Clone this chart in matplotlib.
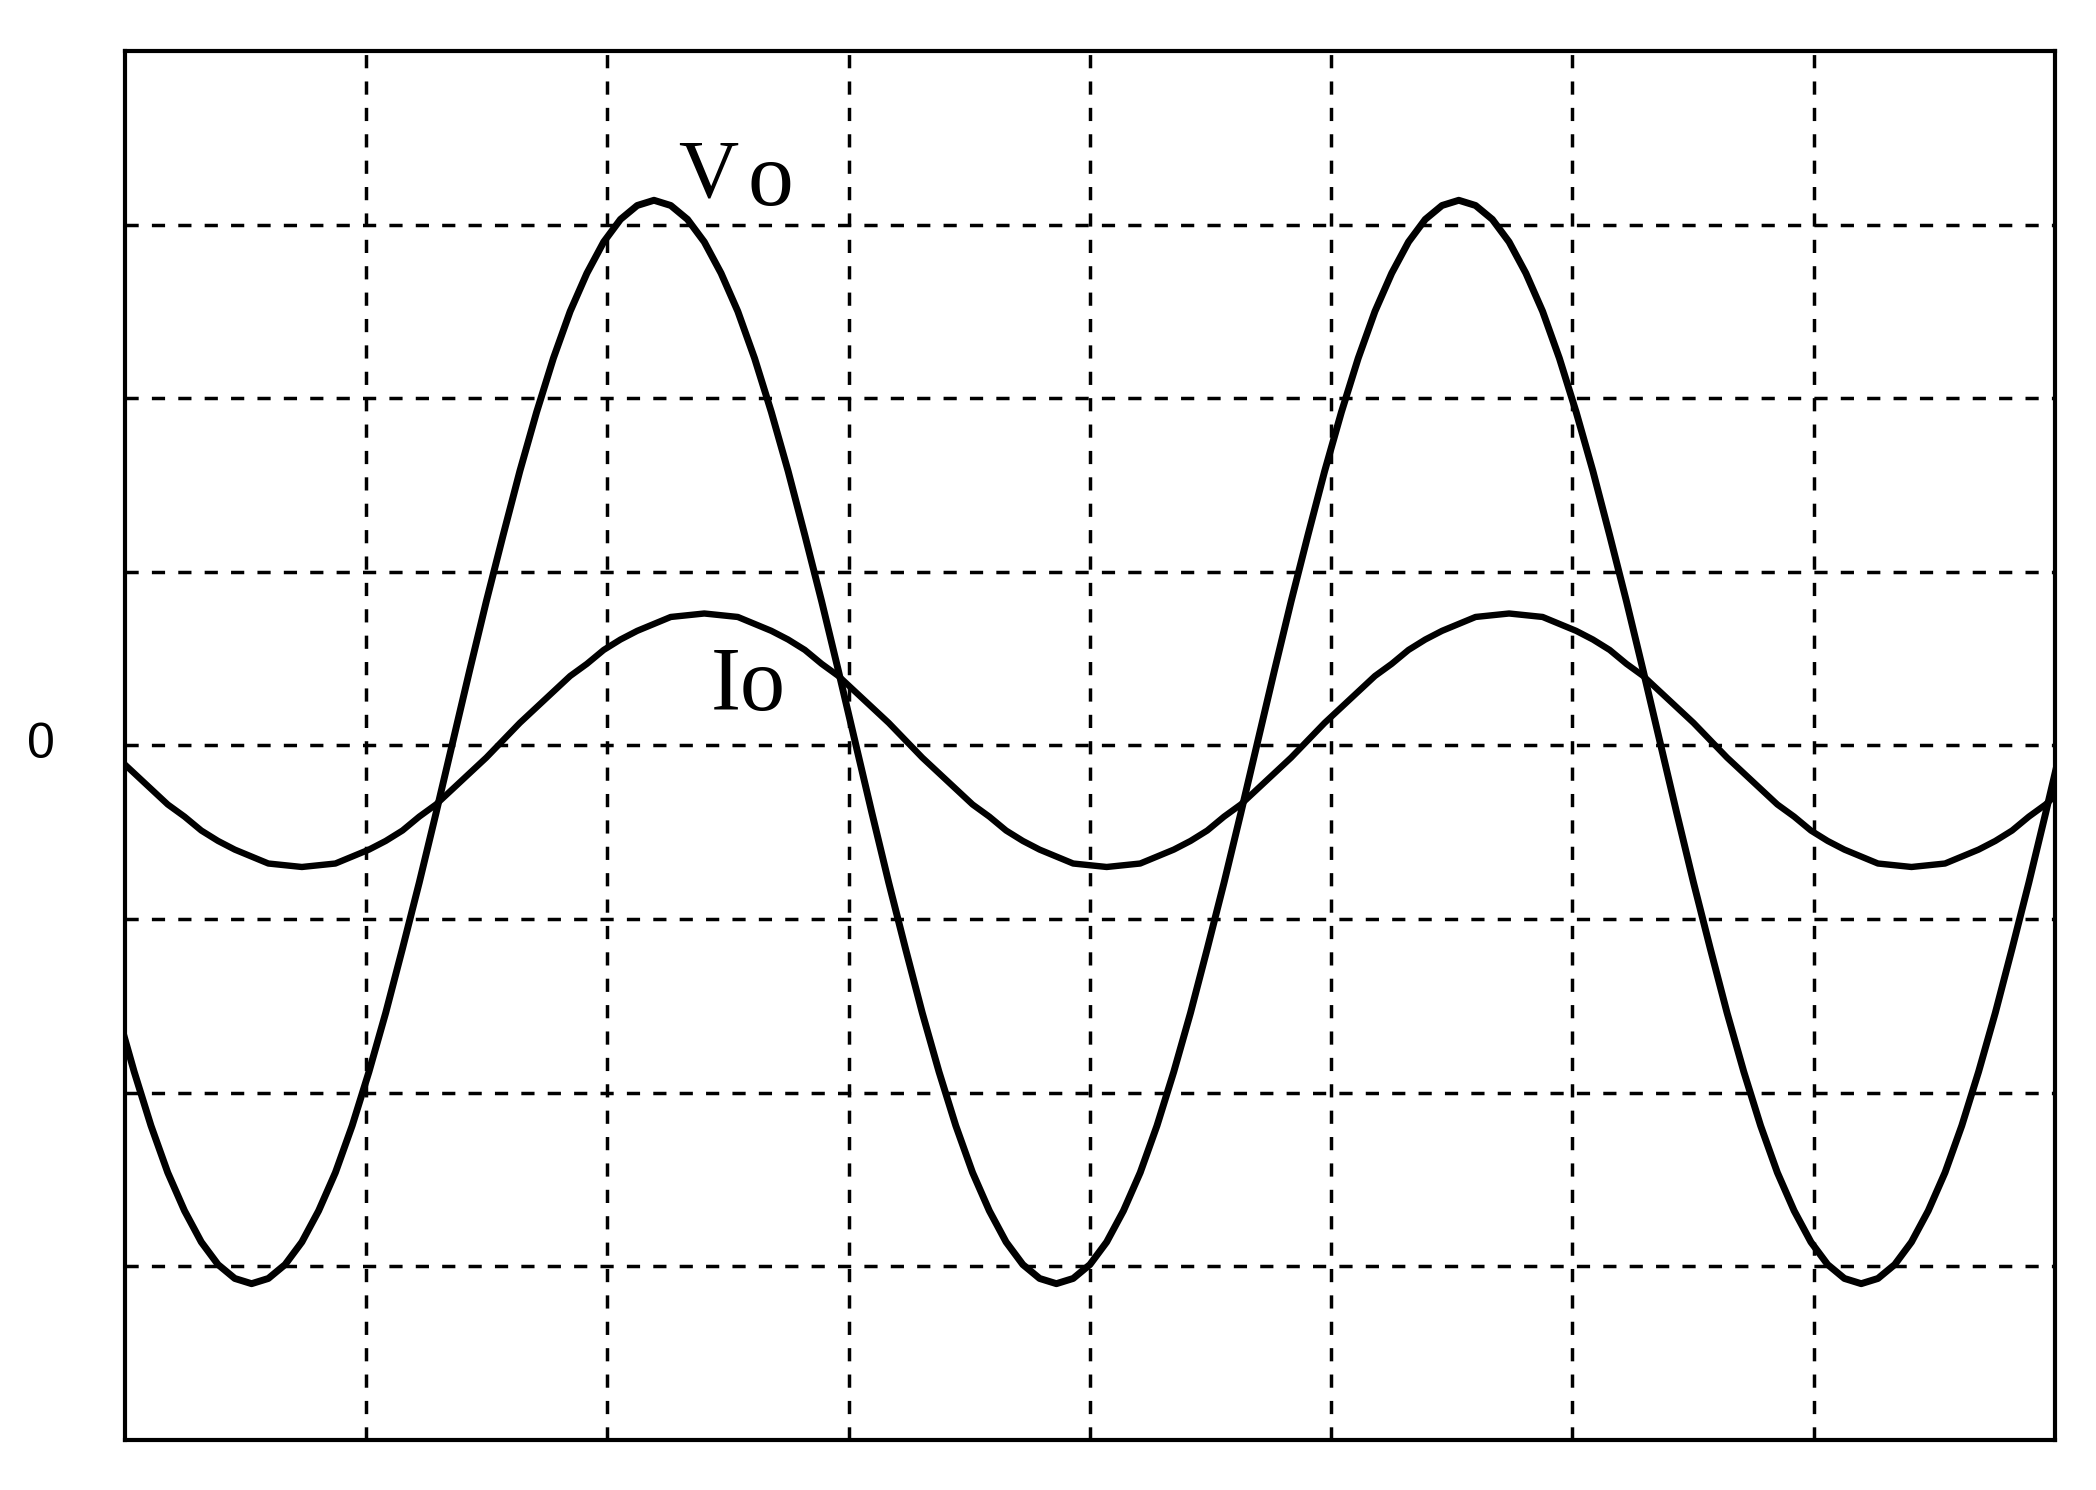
import numpy as np
import matplotlib.pyplot as plt

# (jednostki: działki siatki), wspólna oś czasu dla Vo i Io
czas = [-0.0310, 0.0385, 0.1080, 0.1775, 0.2470, 0.3165, 0.3860, 0.4555, 0.5250, 0.5945,
        0.6640, 0.7335, 0.8030, 0.8725, 0.9420, 1.0115, 1.0810, 1.1505, 1.2200, 1.2895,
        1.3590, 1.4285, 1.4980, 1.5675, 1.6370, 1.7065, 1.7760, 1.8455, 1.9150, 1.9845,
        2.0540, 2.1235, 2.1930, 2.2625, 2.3320, 2.4015, 2.4710, 2.5405, 2.6100, 2.6795,
        2.7490, 2.8185, 2.8880, 2.9575, 3.0270, 3.0965, 3.1660, 3.2355, 3.3050, 3.3745,
        3.4440, 3.5135, 3.5830, 3.6525, 3.7220, 3.7915, 3.8610, 3.9305, 4.0000, 4.0695,
        4.1390, 4.2085, 4.2780, 4.3475, 4.4170, 4.4865, 4.5560, 4.6255, 4.6950, 4.7645,
        4.8340, 4.9035, 4.9730, 5.0425, 5.1120, 5.1815, 5.2510, 5.3205, 5.3900, 5.4595,
        5.5290, 5.5985, 5.6680, 5.7375, 5.8070, 5.8765, 5.9460, 6.0155, 6.0850, 6.1545,
        6.2240, 6.2935, 6.3630, 6.4325, 6.5020, 6.5715, 6.6410, 6.7105, 6.7800, 6.8495,
        6.9190, 6.9885, 7.0580, 7.1275, 7.1970, 7.2665, 7.3360, 7.4055, 7.4750, 7.5445,
        7.6140, 7.6835, 7.7530, 7.8225, 7.8920, 7.9615, 8.0310]

vo = [-1.54, -1.88, -2.19, -2.46, -2.68, -2.86, -2.99, -3.07, -3.10, -3.07, -2.99, -2.86,
      -2.68, -2.46, -2.19, -1.88, -1.54, -1.17, -0.79, -0.39, 0.02, 0.43, 0.83, 1.21,
      1.58, 1.92, 2.23, 2.50, 2.72, 2.90, 3.03, 3.11, 3.14, 3.11, 3.03, 2.90,
      2.72, 2.50, 2.23, 1.92, 1.58, 1.21, 0.83, 0.43, 0.02, -0.39, -0.79, -1.17,
      -1.54, -1.88, -2.19, -2.46, -2.68, -2.86, -2.99, -3.07, -3.10, -3.07, -2.99, -2.86,
      -2.68, -2.46, -2.19, -1.88, -1.54, -1.17, -0.79, -0.39, 0.02, 0.43, 0.83, 1.21,
      1.58, 1.92, 2.23, 2.50, 2.72, 2.90, 3.03, 3.11, 3.14, 3.11, 3.03, 2.90,
      2.72, 2.50, 2.23, 1.92, 1.58, 1.21, 0.83, 0.43, 0.02, -0.39, -0.79, -1.17,
      -1.54, -1.88, -2.19, -2.46, -2.68, -2.86, -2.99, -3.07, -3.10, -3.07, -2.99, -2.86,
      -2.68, -2.46, -2.19, -1.88, -1.54, -1.17, -0.79, -0.39, 0.02]

io = [-0.07, -0.16, -0.25, -0.34, -0.41, -0.49, -0.55, -0.60, -0.64, -0.68, -0.69, -0.70,
      -0.69, -0.68, -0.64, -0.60, -0.55, -0.49, -0.41, -0.34, -0.25, -0.16, -0.07, 0.03,
      0.13, 0.22, 0.31, 0.40, 0.47, 0.55, 0.61, 0.66, 0.70, 0.74, 0.75, 0.76,
      0.75, 0.74, 0.70, 0.66, 0.61, 0.55, 0.47, 0.40, 0.31, 0.22, 0.13, 0.03,
      -0.07, -0.16, -0.25, -0.34, -0.41, -0.49, -0.55, -0.60, -0.64, -0.68, -0.69, -0.70,
      -0.69, -0.68, -0.64, -0.60, -0.55, -0.49, -0.41, -0.34, -0.25, -0.16, -0.07, 0.03,
      0.13, 0.22, 0.31, 0.40, 0.47, 0.55, 0.61, 0.66, 0.70, 0.74, 0.75, 0.76,
      0.75, 0.74, 0.70, 0.66, 0.61, 0.55, 0.47, 0.40, 0.31, 0.22, 0.13, 0.03,
      -0.07, -0.16, -0.25, -0.34, -0.41, -0.49, -0.55, -0.60, -0.64, -0.68, -0.69, -0.70,
      -0.69, -0.68, -0.64, -0.60, -0.55, -0.49, -0.41, -0.34, -0.25]

siatka_x = [1, 2, 3, 4, 5, 6, 7]
siatka_y = [-3, -2, -1, 0, 1, 2, 3]

n = min(len(czas), len(vo), len(io))
czas, vo, io = czas[:n], vo[:n], io[:n]

plt.rcParams['lines.scale_dashes'] = False

fig = plt.figure(figsize=(20.96, 14.90), dpi=100)
ax = fig.add_axes([0.0596, 0.0336, 0.9208, 0.9322])
ax.set_xlim(0, 8)
ax.set_ylim(-4, 4)

# siatka przerywana
ax.set_xticks(siatka_x)
ax.set_yticks(siatka_y)
ax.grid(True, color='black', linewidth=2.5, linestyle=(0, (9.5, 9.5)))
ax.tick_params(length=0, labelbottom=False, labelleft=False)
for s in ax.spines.values():
    s.set_linewidth(3.0)
    s.set_zorder(5)

ax.plot(czas, vo, color='black', linewidth=5.0, solid_joinstyle='round')
ax.plot(czas, io, color='black', linewidth=4.6, solid_joinstyle='round')

# opisy przebiegów
ax.text(2.292, 3.16, "V", fontsize=60, family='Liberation Serif', ha='left', va='baseline')
ax.text(2.58, 3.113, "o", fontsize=66, family='Liberation Serif', ha='left', va='baseline')
ax.text(2.43, 0.204, "Io", fontsize=65, family='Liberation Serif', ha='left', va='baseline')
ax.text(-0.0435, 0.5, "0", transform=ax.transAxes, fontsize=36, family='Liberation Sans',
        ha='center', va='center')

fig.savefig("out.png", dpi=100)
